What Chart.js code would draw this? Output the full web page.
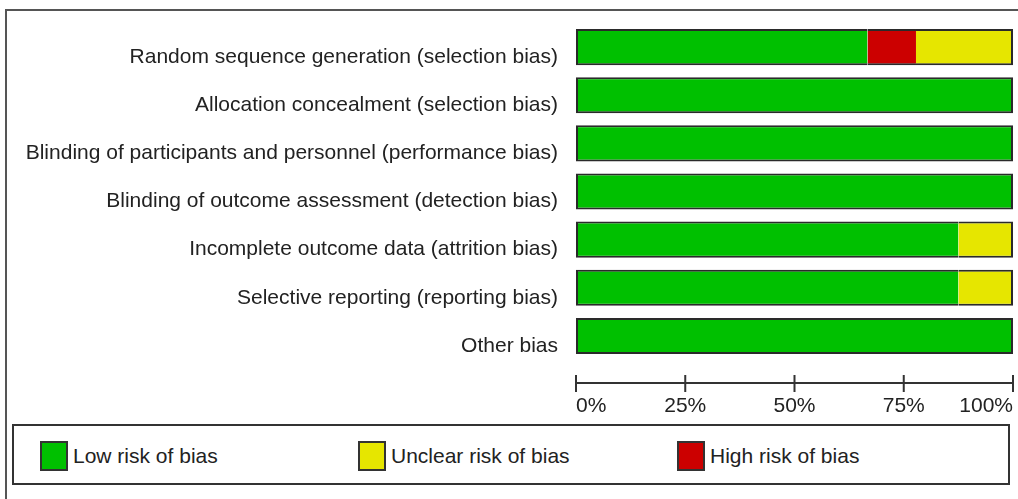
<!DOCTYPE html>
<html>
<head>
<meta charset="utf-8">
<script src="https://cdn.jsdelivr.net/npm/chart.js@4"></script>
<style>
  html, body { margin: 0; padding: 0; background: #fff; }
  body { width: 1018px; height: 499px; position: relative; overflow: hidden;
         font-family: "Liberation Sans", Arial, sans-serif; color: #222; }
  #frame { position: absolute; left: 5px; top: 9px; width: 1100px; height: 600px;
           border-left: 2px solid #555; border-top: 2px solid #555; }
  #wrap { position: absolute; left: 0; top: 0; width: 1018px; height: 420px; }
  #legend { position: absolute; left: 12px; top: 424px; width: 994px; height: 57px;
            border: 2px solid #333; }
  .item { position: absolute; top: 15px; height: 30px; display: flex; align-items: center;
          font-size: 21px; }
  .sw { width: 24px; height: 26px; border: 2px solid #333; margin-right: 5px; }
</style>
</head>
<body>
<div id="frame"></div>
<div id="wrap"><canvas id="chart"></canvas></div>
<div id="legend"></div>
<script>
  const categories = [
    'Random sequence generation (selection bias)',
    'Allocation concealment (selection bias)',
    'Blinding of participants and personnel (performance bias)',
    'Blinding of outcome assessment (detection bias)',
    'Incomplete outcome data (attrition bias)',
    'Selective reporting (reporting bias)',
    'Other bias',
  ];
  const lowRisk = [66.7, 100, 100, 100, 87.5, 87.5, 100];
  const highRisk = [11.1, 0, 0, 0, 0, 0, 0];
  const unclearRisk = [22.2, 0, 0, 0, 12.5, 12.5, 0];
  const tickValues = [0, 25, 50, 75, 100];

  const GREEN = '#00c000', YELLOW = '#e6e600', RED = '#cc0000', EDGE = '#2a2a2a';
  const rows = [lowRisk, highRisk, unclearRisk];

  // outline only round the whole bar, not between segments
  function edges(ctx) {
    const i = ctx.dataIndex, d = ctx.datasetIndex;
    let first = -1, last = -1;
    rows.forEach((r, k) => { if (r[i] > 0) { if (first < 0) first = k; last = k; } });
    if (rows[d][i] <= 0) return 0;
    return { top: 2, bottom: 2, left: d === first ? 2 : 0, right: d === last ? 2 : 0 };
  }

  const axisLine = {
    id: 'axisLine',
    afterDraw(chart) {
      const x = chart.scales.x, c = chart.ctx;
      const y = chart.chartArea.bottom + 23;
      c.save();
      c.strokeStyle = '#333';
      c.lineWidth = 2;
      c.beginPath();
      c.moveTo(x.getPixelForValue(0), y);
      c.lineTo(x.getPixelForValue(100), y);
      tickValues.forEach(v => {
        const px = x.getPixelForValue(v);
        c.moveTo(px, y - 8);
        c.lineTo(px, y + 9);
      });
      c.stroke();
      c.restore();
    },
  };

  const font = { family: '"Liberation Sans", Arial, sans-serif', size: 21 };

  new Chart(document.getElementById('chart'), {
    type: 'bar',
    data: {
      labels: categories,
      datasets: [
        { label: 'Low risk of bias', data: lowRisk, backgroundColor: GREEN },
        { label: 'High risk of bias', data: highRisk, backgroundColor: RED },
        { label: 'Unclear risk of bias', data: unclearRisk, backgroundColor: YELLOW },
      ].map(ds => ({ ...ds, borderColor: EDGE, borderWidth: edges, borderSkipped: false,
                     categoryPercentage: 1, barPercentage: 0.75 })),
    },
    options: {
      indexAxis: 'y',
      responsive: true,
      maintainAspectRatio: false,
      animation: false,
      layout: { padding: { top: 23, right: 5, left: 0, bottom: 0 } },
      plugins: { legend: { display: false }, tooltip: { enabled: false } },
      scales: {
        x: {
          stacked: true, min: 0, max: 100,
          afterFit: (s) => { s.height = 60; s.paddingLeft = 0; s.paddingRight = 0; },
          afterBuildTicks: (s) => { s.ticks = tickValues.map(v => ({ value: v })); },
          grid: { display: false, drawTicks: false },
          border: { display: false },
          ticks: { font, color: '#222', padding: 34, align: 'inner', maxRotation: 0,
                   callback: (v) => v + '%' },
        },
        y: {
          stacked: true,
          afterFit: (s) => { s.width = 576; s.paddingTop = 0; s.paddingBottom = 0; },
          grid: { display: false, drawTicks: false },
          border: { display: false },
          ticks: { font, color: '#222', padding: 18, labelOffset: 10 },
        },
      },
    },
    plugins: [axisLine],
  });

  const legendItems = [
    { label: 'Low risk of bias', color: GREEN, left: 26 },
    { label: 'Unclear risk of bias', color: YELLOW, left: 344 },
    { label: 'High risk of bias', color: RED, left: 663 },
  ];
  document.getElementById('legend').innerHTML = legendItems.map(it =>
    `<div class="item" style="left:${it.left}px"><span class="sw" style="background:${it.color}"></span>${it.label}</div>`
  ).join('');
</script>
</body>
</html>
